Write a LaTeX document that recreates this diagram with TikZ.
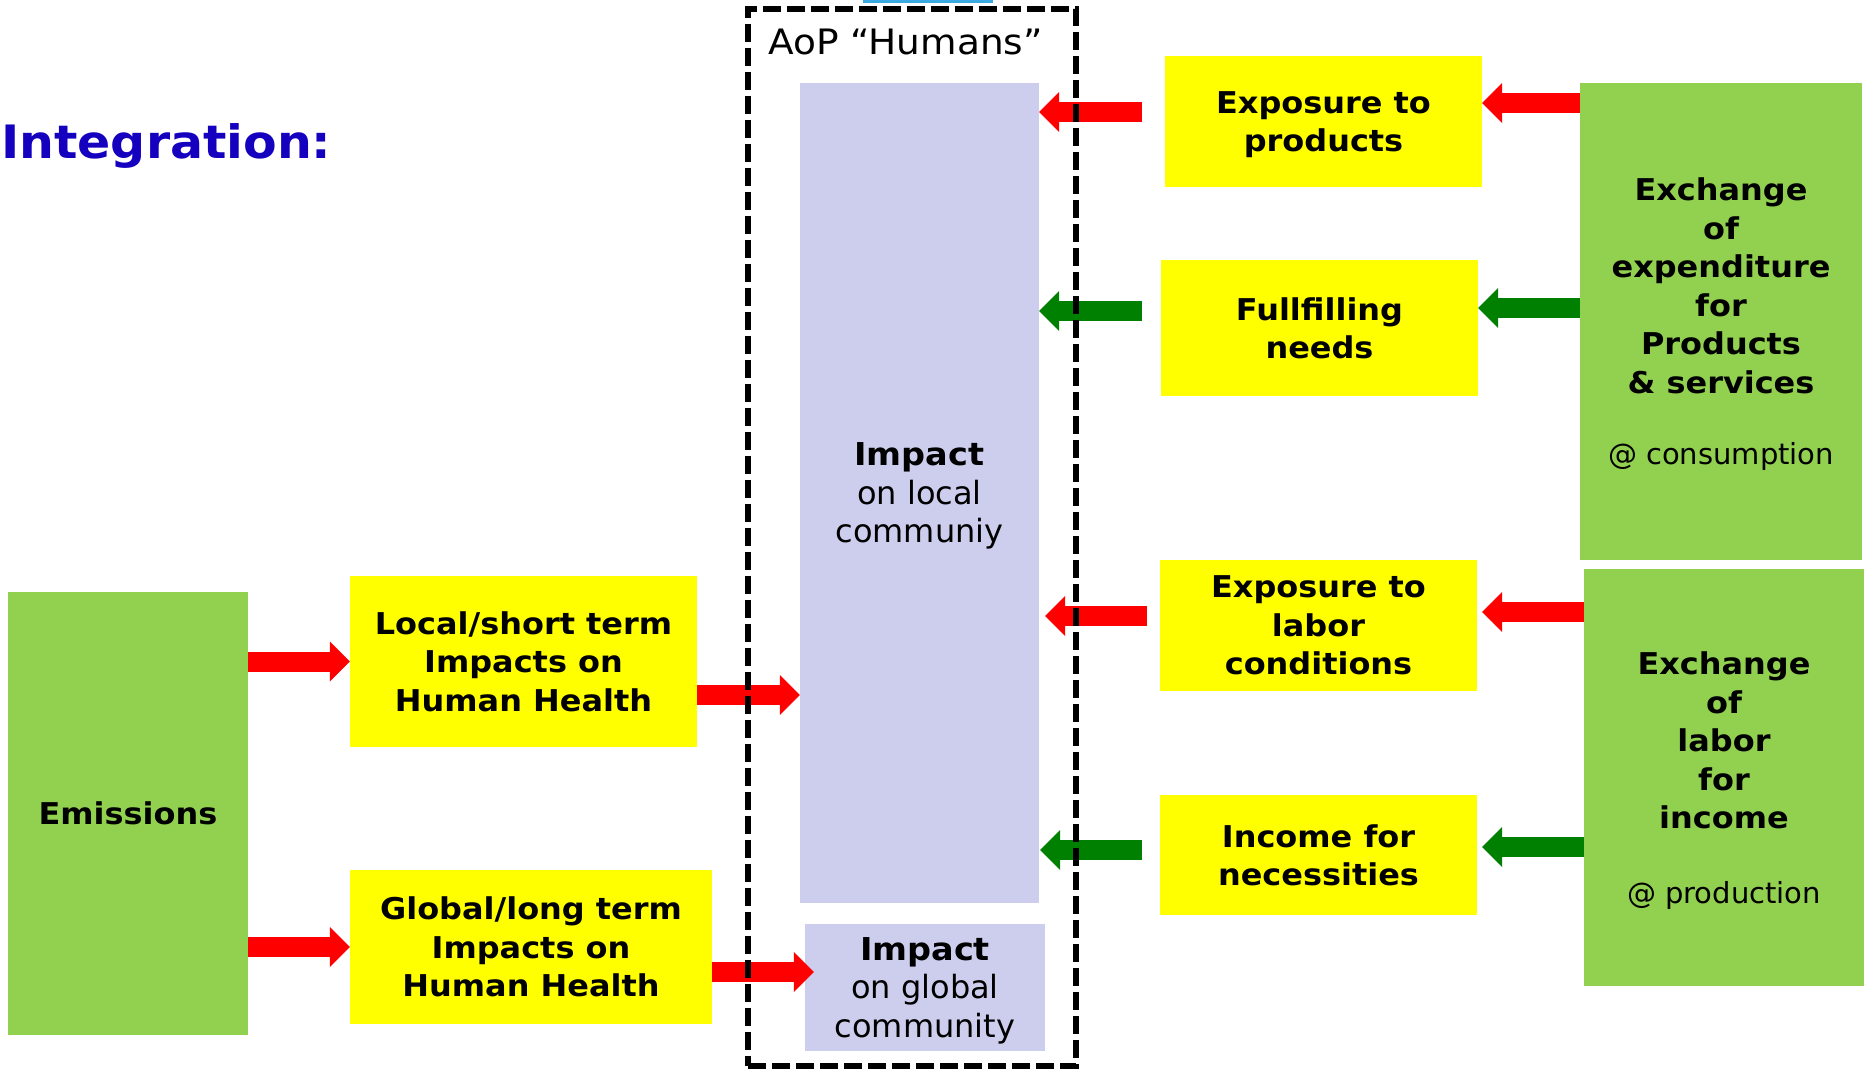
\documentclass[tikz,border=0pt]{standalone}
\usepackage{fontspec}
\setmainfont{DejaVu Sans}[BoldFeatures={FakeStretch=1.065}]
\usetikzlibrary{arrows.meta}
\definecolor{lgreen}{RGB}{146,208,80}
\definecolor{yel}{RGB}{255,255,0}
\definecolor{lav}{RGB}{205,206,237}
\definecolor{dgreen}{RGB}{0,128,0}
\definecolor{ttblue}{RGB}{20,0,190}
\definecolor{cyanl}{RGB}{60,170,225}
\begin{document}
\begin{tikzpicture}[x=1pt,y=-1pt,
  boxbase/.style={rectangle, inner sep=0pt, align=center, text depth=0pt},
  greenbox/.style={boxbase, fill=lgreen, font=\fontsize{30pt}{38.5pt}\selectfont},
  yelbox/.style={boxbase, fill=yel, font=\fontsize{30pt}{38.5pt}\selectfont\bfseries},
  lavbox/.style={boxbase, fill=lav, font=\fontsize{32pt}{38.5pt}\selectfont},
  blockarrow/.style={line width=20pt, -{Triangle[length=20pt,width=40pt,line width=0pt]}},
  redarrow/.style={blockarrow, draw=red},
  grnarrow/.style={blockarrow, draw=dgreen},
  frame/.style={draw=black, line width=6pt, dash pattern=on 18pt off 6pt, fill=none, inner sep=0pt}
]
\useasboundingbox (0,0) rectangle (1864,1071);
\fill[cyanl] (863,0) rectangle (993,3);

% title
\node[anchor=base west, inner sep=0pt, text=ttblue, font=\fontsize{46pt}{56pt}\selectfont\bfseries] (title) at (1,158) {Integration:};

% left column
\node[greenbox, font=\fontsize{30pt}{38.5pt}\selectfont\bfseries, minimum width=240pt, minimum height=443pt] (emis) at (128,813.5) {Emissions};
\node[yelbox, minimum width=347pt, minimum height=171pt] (loc) at (523.5,661.5) {Local/short term\\Impacts on\\Human Health};
\node[yelbox, minimum width=362pt, minimum height=154pt] (glob) at (531,947) {Global/long term\\Impacts on\\Human Health};

% AoP boxes
\node[lavbox, minimum width=239pt, minimum height=820pt] (big) at (919.5,493) {{\bfseries\fontsize{31.5pt}{38.5pt}\selectfont Impact}\\on local\\communiy};
\node[lavbox, minimum width=240pt, minimum height=127pt] (gl) at (925,987.5) {{\bfseries\fontsize{31.5pt}{38.5pt}\selectfont Impact}\\on global\\community};

% right column
\node[yelbox, minimum width=317pt, minimum height=131pt] (expo) at (1323.5,121.5) {Exposure to\\products};
\node[yelbox, minimum width=317pt, minimum height=136pt] (need) at (1319.5,328) {Fullfilling\\needs};
\node[yelbox, minimum width=317pt, minimum height=131pt] (labr) at (1318.5,625.5) {Exposure to\\labor\\conditions};
\node[yelbox, minimum width=317pt, minimum height=120pt] (inc) at (1318.5,855) {Income for\\necessities};

\node[greenbox, minimum width=282pt, minimum height=477pt] (gtop) at (1721,321.5) {{\bfseries Exchange}\\{\bfseries of}\\{\bfseries expenditure}\\{\bfseries for}\\{\bfseries Products}\\{\bfseries \& services}\\[33pt]{\fontsize{29pt}{38.5pt}\selectfont @ consumption}};
\node[greenbox, minimum width=280pt, minimum height=417pt] (gbot) at (1724,777.5) {{\bfseries Exchange}\\{\bfseries of}\\{\bfseries labor}\\{\bfseries for}\\{\bfseries income}\\[36pt]{\fontsize{29pt}{38.5pt}\selectfont @ production}};

% arrows left
\draw[redarrow] (emis.east |- loc.west) -- (loc.west);
\draw[redarrow] (emis.east |- glob.west) -- (glob.west);
\draw[redarrow] (loc.east |- 0,695) -- (big.west |- 0,695);
\draw[redarrow] (glob.east |- 0,972) -- ([xshift=9pt] gl.west |- 0,972);

% arrows right
\draw[redarrow] (gtop.west |- 0,103) -- (expo.east |- 0,103);
\draw[redarrow] ([xshift=-23pt] expo.west |- 0,112) -- (big.east |- 0,112);
\draw[grnarrow] (gtop.west |- 0,308) -- (need.east |- 0,308);
\draw[grnarrow] ([xshift=-19pt] need.west |- 0,311) -- (big.east |- 0,311);
\draw[redarrow] (gbot.west |- 0,612) -- ([xshift=5pt] labr.east |- 0,612);
\draw[redarrow] ([xshift=-13pt] labr.west |- 0,616) -- ([xshift=6pt] big.east |- 0,616);
\draw[grnarrow] (gbot.west |- 0,847) -- ([xshift=5pt] inc.east |- 0,847);
\draw[grnarrow] ([xshift=-18pt] inc.west |- 0,850) -- ([xshift=1pt] big.east |- 0,850);

% AoP frame
\node[frame, minimum width=328pt, minimum height=1057pt] (aop) at (912,537.5) {};
\node[anchor=base west, inner sep=0pt, font=\fontsize{35pt}{42pt}\selectfont\addfontfeature{FakeStretch=1.07}] (aoplabel) at (768,54) {AoP “Humans”};
\end{tikzpicture}
\end{document}
